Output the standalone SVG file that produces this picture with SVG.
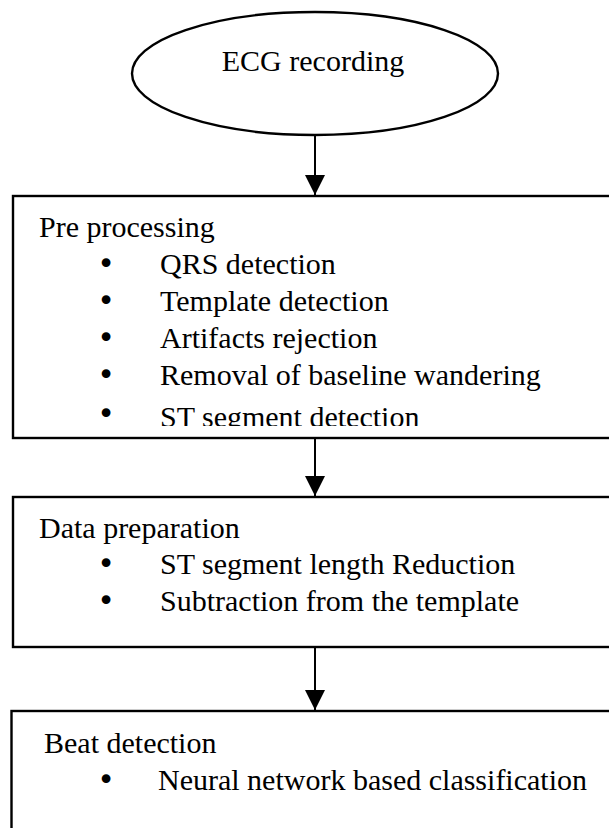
<svg xmlns="http://www.w3.org/2000/svg" width="609" height="828" viewBox="0 0 609 828">
  <style>
    .t { font-family: "Liberation Serif", "Times New Roman", serif; font-size: 30px; fill: #000; }
    .b { font-family: "DejaVu Sans", sans-serif; font-size: 30px; fill: #000; text-anchor: middle; }
    .box { fill: #fff; stroke: #000; stroke-width: 2.4; }
    .conn { stroke: #000; stroke-width: 2; fill: none; marker-end: url(#arrow); }
  </style>
  <defs>
    <marker id="arrow" markerUnits="userSpaceOnUse" markerWidth="20" markerHeight="20" refX="20" refY="10" orient="auto">
      <polygon points="0,0 20,10 0,20" fill="#000"/>
    </marker>
    <clipPath id="clipST">
      <rect x="0" y="380" width="609" height="46"/>
    </clipPath>
  </defs>
  <rect width="609" height="828" fill="#fff"/>

  <g id="node-ecg">
    <ellipse cx="315" cy="73.5" rx="183" ry="61.5" fill="#fff" stroke="#000" stroke-width="2.4"/>
    <text class="t" x="313" y="71" text-anchor="middle">ECG recording</text>
  </g>

  <g id="node-preprocessing">
    <rect class="box" x="13" y="196" width="610" height="242"/>
    <text class="t" x="39" y="237">Pre processing</text>
    <text class="b" x="106" y="274">•</text><text class="t" x="160" y="274">QRS detection</text>
    <text class="b" x="106" y="311">•</text><text class="t" x="160" y="311">Template detection</text>
    <text class="b" x="106" y="348">•</text><text class="t" x="160" y="348">Artifacts rejection</text>
    <text class="b" x="106" y="385">•</text><text class="t" x="160" y="385">Removal of baseline wandering</text>
    <text class="b" x="106" y="424">•</text>
    <g clip-path="url(#clipST)">
      <text class="t" x="160" y="427">ST segment detection</text>
    </g>
  </g>

  <g id="node-datapreparation">
    <rect class="box" x="13" y="497" width="610" height="150"/>
    <text class="t" x="39" y="538">Data preparation</text>
    <text class="b" x="106" y="574">•</text><text class="t" x="160" y="574">ST segment length Reduction</text>
    <text class="b" x="106" y="611">•</text><text class="t" x="160" y="611">Subtraction from the template</text>
  </g>

  <g id="node-beatdetection">
    <rect class="box" x="11.5" y="711" width="612" height="140"/>
    <text class="t" x="44" y="753">Beat detection</text>
    <text class="b" x="106" y="790">•</text><text class="t" x="158" y="790">Neural network based classification</text>
  </g>

  <g id="connectors">
    <line class="conn" x1="315" y1="135" x2="315" y2="195"/>
    <line class="conn" x1="315" y1="439" x2="315" y2="496"/>
    <line class="conn" x1="315" y1="648" x2="315" y2="710"/>
  </g>
</svg>
